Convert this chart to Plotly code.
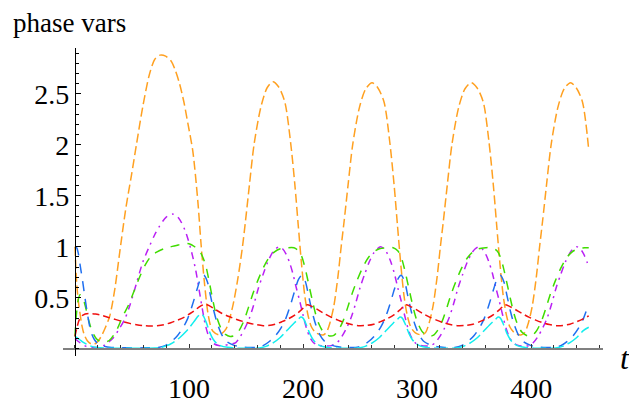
import plotly.graph_objects as go

# ---- phase variables sampled along t ----
t_orange = [0, 0.7, 1.5, 3, 4.5, 6, 8, 11, 14, 17, 20, 23, 26, 30.5, 35, 39.3, 44.5, 49.5, 54, 59.7,
            65.5, 70, 74.5, 79.5, 84.4, 88, 91.7, 95.5, 99, 103.3, 107.7, 110.6, 113.5, 116.4, 118.5, 121, 126.5,
            132.5, 138, 142.7, 147, 149.5, 153, 157, 163, 168.5, 173.5, 178.5, 184, 189, 192.8, 195.7, 198.5,
            201.5, 204.5, 207.5, 211.5, 217.5,
            220.5, 223.5, 227, 230.5, 233.5, 236, 239.5, 243.5, 249.5, 255, 260.5, 265.5, 271, 276, 279.8, 282.7,
            285.5, 288.5, 291.5, 294.5, 298.5, 304,
            307.5, 310.5, 314, 317.5, 320.5, 323, 326.5, 330.5, 336.5, 342, 347.5, 352.5, 358, 363, 366.8, 369.7,
            372.5, 375.5, 378.5, 381.5, 385.5, 391,
            394.5, 397.5, 401, 404.5, 407.5, 410, 413.5, 417.5, 423.5, 429, 434.5, 439.5, 445, 450.5]
orange = [1.0, 0.82, 0.64, 0.46, 0.34, 0.23, 0.14, 0.075, 0.048, 0.045, 0.07, 0.12, 0.19, 0.32, 0.59, 0.95, 1.37, 1.70, 2.01, 2.39,
          2.70, 2.84, 2.88, 2.87, 2.82, 2.73, 2.60, 2.42, 2.21, 1.94, 1.45, 1.02, 0.65, 0.36, 0.24, 0.17, 0.135,
          0.195, 0.40, 0.68, 1.01, 1.25, 1.61, 2.0, 2.37, 2.56, 2.62, 2.57, 2.42, 2.03, 1.61, 1.22, 0.85,
          0.52, 0.32, 0.21, 0.155, 0.135,
          0.16, 0.25, 0.42, 0.70, 1.01, 1.25, 1.61, 2.0, 2.37, 2.55, 2.61, 2.56, 2.42, 2.03, 1.61, 1.22,
          0.85, 0.52, 0.32, 0.21, 0.155, 0.135,
          0.16, 0.25, 0.42, 0.70, 1.01, 1.25, 1.61, 2.0, 2.37, 2.55, 2.61, 2.56, 2.42, 2.03, 1.61, 1.22,
          0.85, 0.52, 0.32, 0.21, 0.155, 0.135,
          0.16, 0.25, 0.42, 0.70, 1.01, 1.25, 1.61, 2.0, 2.37, 2.55, 2.61, 2.56, 2.42, 1.95]

t_magenta = [0, 3, 6, 10, 15, 20, 25, 29, 33.5, 38, 43.7, 48, 53.9, 59.5, 65.5, 70, 74, 80, 86, 91, 96.5,
             101.5, 105.7, 110, 114, 117, 121, 126, 132, 137,
             141, 145, 149, 153, 157, 161, 165, 169, 173, 176, 179, 182, 185, 188, 191, 194, 197, 200, 203, 206,
             209, 213, 219, 225,
             230, 234, 238, 242, 246, 250, 254, 258, 262, 265, 268, 271, 274, 277, 280, 283, 286, 289, 292, 295,
             298, 302, 308, 312,
             316, 320, 324, 328, 332, 336, 340, 344, 348, 351, 354, 357, 360, 363, 366, 369, 372, 375, 378, 381,
             384, 388, 394, 398,
             402, 406, 410, 414, 418, 422, 426, 430, 434, 437, 440, 443, 446, 449, 450.5]
magenta = [0.1, 0.07, 0.045, 0.022, 0.012, 0.015, 0.03, 0.06, 0.105, 0.18, 0.29, 0.42, 0.64, 0.85, 1.01, 1.12, 1.2, 1.29, 1.32, 1.28, 1.16,
           0.98, 0.78, 0.5, 0.25, 0.13, 0.055, 0.03, 0.035, 0.045,
           0.06, 0.12, 0.2, 0.3, 0.44, 0.6, 0.73, 0.85, 0.94, 0.98, 1.0, 0.98, 0.93, 0.85, 0.74, 0.6, 0.47, 0.33, 0.2, 0.11,
           0.06, 0.035, 0.025, 0.03,
           0.06, 0.12, 0.2, 0.3, 0.44, 0.6, 0.73, 0.85, 0.94, 0.98, 1.0, 0.98, 0.93, 0.85, 0.74, 0.6, 0.47, 0.33, 0.2, 0.11,
           0.06, 0.035, 0.025, 0.03,
           0.06, 0.12, 0.2, 0.3, 0.44, 0.6, 0.73, 0.85, 0.94, 0.98, 1.0, 0.98, 0.93, 0.85, 0.74, 0.6, 0.47, 0.33, 0.2, 0.11,
           0.06, 0.035, 0.025, 0.03,
           0.06, 0.12, 0.2, 0.3, 0.44, 0.6, 0.73, 0.85, 0.94, 0.98, 1.0, 0.98, 0.93, 0.85, 0.81]

t_green = [0, 1, 2.5, 4.5, 6.5, 9, 12, 15, 19, 24, 30, 36, 42, 47, 52, 57, 62, 67, 72, 80, 88, 95, 100, 105,
           109, 112, 115, 118, 121, 124, 128, 132, 136,
           140, 144, 148, 152, 156, 160, 165, 170, 175, 180, 186, 192, 196, 199, 202, 205, 208, 211, 214, 218, 223,
           227, 231, 235, 239, 243, 247, 252, 257, 262, 267, 273, 279, 283, 286, 289, 292, 295, 298, 301, 305, 310,
           314, 318, 322, 326, 330, 334, 339, 344, 349, 354, 360, 366, 370, 373, 376, 379, 382, 385, 388, 392, 397,
           401, 405, 409, 413, 417, 421, 426, 431, 436, 441, 447, 450.5]
green = [0.12, 0.3, 0.46, 0.53, 0.51, 0.42, 0.28, 0.17, 0.095, 0.06, 0.08, 0.17, 0.32, 0.43, 0.57, 0.71, 0.83, 0.91, 0.95, 0.99, 1.01, 1.03, 1.03, 1.0,
         0.96, 0.9, 0.8, 0.64, 0.47, 0.32, 0.2, 0.14, 0.12,
         0.13, 0.18, 0.27, 0.4, 0.54, 0.66, 0.79, 0.89, 0.95, 0.98, 0.99, 0.99, 0.96, 0.9, 0.78, 0.63, 0.48, 0.34, 0.24, 0.16, 0.125,
         0.13, 0.18, 0.27, 0.4, 0.54, 0.66, 0.79, 0.89, 0.95, 0.98, 0.99, 0.99, 0.96, 0.9, 0.78, 0.63, 0.48, 0.34, 0.24, 0.16, 0.125,
         0.13, 0.18, 0.27, 0.4, 0.54, 0.66, 0.79, 0.89, 0.95, 0.98, 0.99, 0.99, 0.96, 0.9, 0.78, 0.63, 0.48, 0.34, 0.24, 0.16, 0.125,
         0.13, 0.18, 0.27, 0.4, 0.54, 0.66, 0.79, 0.89, 0.95, 0.98, 0.99, 0.99]

t_blue = [0, 1.5, 3, 4.5, 6.5, 8.5, 10.5, 12.5, 14.5, 17, 20, 25, 32, 45, 60,
          73, 79, 85, 90, 95, 99, 103, 107, 110, 113, 116, 119, 122, 125, 129, 133, 139, 145, 151,
          159, 165, 171, 176, 181, 185, 189, 193, 196, 199, 202, 205, 208, 211, 215, 219, 225, 231, 237,
          246, 252, 258, 263, 268, 272, 276, 280, 283, 286, 289, 292, 295, 298, 302, 306, 312, 318, 324,
          333, 339, 345, 350, 355, 359, 363, 367, 370, 373, 376, 379, 382, 385, 389, 393, 399, 405, 411,
          420, 426, 432, 437, 442, 446, 450.5]
blue = [1.0, 0.99, 0.93, 0.82, 0.68, 0.52, 0.37, 0.24, 0.15, 0.09, 0.05, 0.025, 0.012, 0.008, 0.008,
        0.012, 0.03, 0.075, 0.13, 0.21, 0.3, 0.43, 0.58, 0.68, 0.72, 0.66, 0.51, 0.36, 0.24, 0.13, 0.07, 0.035, 0.018, 0.012,
        0.012, 0.03, 0.075, 0.13, 0.21, 0.3, 0.43, 0.58, 0.68, 0.72, 0.66, 0.51, 0.36, 0.24, 0.13, 0.07, 0.035, 0.018, 0.012,
        0.012, 0.03, 0.075, 0.13, 0.21, 0.3, 0.43, 0.58, 0.68, 0.72, 0.66, 0.51, 0.36, 0.24, 0.13, 0.07, 0.035, 0.018, 0.012,
        0.012, 0.03, 0.075, 0.13, 0.21, 0.3, 0.43, 0.58, 0.68, 0.72, 0.66, 0.51, 0.36, 0.24, 0.13, 0.07, 0.035, 0.018, 0.012,
        0.012, 0.03, 0.075, 0.13, 0.21, 0.3, 0.44]

t_red = [0, 2, 4, 7, 12, 18, 24, 30, 36, 42, 48, 54, 60, 66, 72, 78, 84, 90, 96, 101, 105, 109, 114, 118, 123,
         129, 135, 141, 147, 153, 159, 165,
         169.5, 175.5, 181.5, 187.5, 193.5, 198.5, 203.5, 207.5, 212.5, 218.5, 224.5, 230.5, 236.5, 242.5, 248.5,
         256, 262, 268, 274, 280, 285, 290, 294, 299, 305, 311, 317, 323, 329, 335,
         343, 349, 355, 361, 367, 372, 377, 381, 386, 392, 398, 404, 410, 416, 422, 428, 434, 440, 446, 450.5]
red = [0.12, 0.22, 0.29, 0.33, 0.345, 0.34, 0.325, 0.305, 0.285, 0.265, 0.248, 0.235, 0.226, 0.222, 0.225, 0.235, 0.255, 0.28, 0.31, 0.345, 0.375, 0.41, 0.436, 0.42, 0.385,
       0.345, 0.315, 0.29, 0.268, 0.25, 0.235, 0.226,
       0.228, 0.24, 0.265, 0.295, 0.335, 0.38, 0.43, 0.415, 0.385, 0.345, 0.31, 0.28, 0.255, 0.237, 0.226,
       0.228, 0.24, 0.265, 0.295, 0.335, 0.38, 0.43, 0.415, 0.385, 0.345, 0.31, 0.28, 0.255, 0.237, 0.226,
       0.228, 0.24, 0.265, 0.295, 0.335, 0.38, 0.43, 0.415, 0.385, 0.345, 0.31, 0.28, 0.255, 0.237, 0.226, 0.228, 0.24, 0.265, 0.295, 0.322]

t_cyan = [0, 2, 4, 7, 10, 14, 19, 25, 40, 60,
          70, 76, 80, 86, 92, 98, 104, 108, 110, 112, 115, 118, 121, 124, 128, 134, 142,
          158, 164, 168, 174, 180, 186, 192, 196, 198, 200, 203, 206, 209, 212, 216, 222, 230,
          245, 251, 255, 261, 267, 273, 279, 283, 285, 287, 290, 293, 296, 299, 303, 309, 317,
          331, 337, 341, 347, 353, 359, 365, 369, 371, 373, 376, 379, 382, 385, 389, 395, 403,
          418, 424, 428, 434, 440, 446, 450.5]
cyan = [0.12, 0.105, 0.09, 0.065, 0.045, 0.025, 0.012, 0.006, 0.003, 0.004,
        0.006, 0.014, 0.027, 0.06, 0.11, 0.175, 0.26, 0.32, 0.34, 0.33, 0.26, 0.165, 0.095, 0.055, 0.027, 0.013, 0.005,
        0.005, 0.012, 0.025, 0.06, 0.11, 0.18, 0.25, 0.29, 0.31, 0.3, 0.23, 0.145, 0.085, 0.05, 0.025, 0.012, 0.005,
        0.005, 0.012, 0.025, 0.06, 0.11, 0.18, 0.25, 0.29, 0.31, 0.3, 0.23, 0.145, 0.085, 0.05, 0.025, 0.012, 0.005,
        0.005, 0.012, 0.025, 0.06, 0.11, 0.18, 0.25, 0.29, 0.31, 0.3, 0.23, 0.145, 0.085, 0.05, 0.025, 0.012, 0.005,
        0.005, 0.012, 0.025, 0.06, 0.11, 0.18, 0.21]

x_tickvals = [100, 200, 300, 400]
y_tickvals = [0.5, 1, 1.5, 2, 2.5]
y_ticktext = ["0.5", "1", "1.5", "2", "2.5"]

X_RANGE = [-10.5, 463]
Y_RANGE = [-0.072, 2.95]
SERIF = "Liberation Serif, Times New Roman, serif"

series = [
    (t_orange, orange, "#FFA020", "9px,4px"),
    (t_magenta, magenta, "#BA20F4", "7px,5px,2px,5px"),
    (t_green, green, "#40DC00", "9px,8px"),
    (t_blue, blue, "#1F6FF0", "10px,8px"),
    (t_red, red, "#F01010", "7px,4px"),
    (t_cyan, cyan, "#12EEEE", "14px,4px"),
]

fig = go.Figure()
for tx, vy, col, dash in series:
    fig.add_trace(go.Scatter(
        x=tx, y=vy, mode="lines",
        # the red curve is bound to the label-carrying twin axis so that axis is drawn
        xaxis="x2" if col == "#F01010" else "x",
        line=dict(color=col, width=1.5, dash=dash, shape="spline", smoothing=0.8),
        showlegend=False, hoverinfo="skip",
    ))

x_pos = (0 - Y_RANGE[0]) / (Y_RANGE[1] - Y_RANGE[0])
y_pos = (0 - X_RANGE[0]) / (X_RANGE[1] - X_RANGE[0])

fig.update_layout(
    width=629, height=416,
    margin=dict(l=63, r=26, t=48, b=33),
    paper_bgcolor="white", plot_bgcolor="white",
    font=dict(family=SERIF, size=28, color="black"),
    # axis line and upward ticks at t-axis height v=0
    xaxis=dict(
        range=X_RANGE, anchor="free", position=x_pos,
        showgrid=False, zeroline=False,
        showline=True, linecolor="#808080", linewidth=2,
        tickmode="array", tickvals=x_tickvals,
        ticks="inside", ticklen=4, tickwidth=1, tickcolor="#333333",
        minor=dict(tickmode="linear", tick0=0, dtick=20, ticks="inside", ticklen=3, tickcolor="#333333"),
        showticklabels=False,
    ),
    # twin of the t-axis that only carries the tick labels, pushed down by invisible ticks
    xaxis2=dict(
        range=X_RANGE, overlaying="x", anchor="free", position=x_pos, side="bottom",
        showgrid=False, zeroline=False, showline=False,
        tickmode="array", tickvals=x_tickvals,
        ticks="outside", ticklen=15, tickcolor="rgba(0,0,0,0)",
        tickfont=dict(family=SERIF, size=28, color="black"),
    ),
    yaxis=dict(
        range=Y_RANGE, anchor="free", position=y_pos,
        showgrid=False, zeroline=False,
        showline=True, linecolor="black", linewidth=1,
        tickmode="array", tickvals=y_tickvals, ticktext=y_ticktext,
        ticks="inside", ticklen=5, tickwidth=1, tickcolor="black",
        minor=dict(tickmode="linear", tick0=0, dtick=0.1, ticks="inside", ticklen=3, tickcolor="black"),
        tickfont=dict(family=SERIF, size=28, color="black"),
    ),
    annotations=[
        dict(text="phase vars", xref="paper", yref="paper",
             x=(11 - 63) / 540, y=(383 - 2) / 335, xanchor="left", yanchor="top",
             showarrow=False, font=dict(family=SERIF, size=27, color="black")),
        dict(text="<i>t</i>", xref="paper", yref="paper",
             x=(625 - 63) / 540, y=(383 - 363) / 335, xanchor="center", yanchor="top",
             showarrow=False, font=dict(family=SERIF, size=32, color="black")),
    ],
)

fig.write_html("out.html")
